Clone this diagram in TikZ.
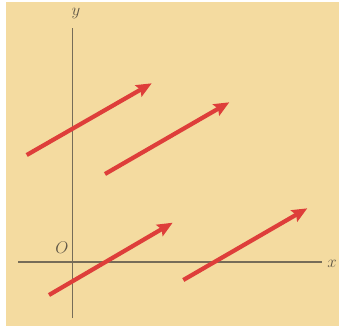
\documentclass[tikz,border=0pt]{standalone}
\usepackage{xcolor}
\usepackage{tikz}
\usetikzlibrary{arrows.meta,positioning,calc}
\definecolor{paperbeige}{RGB}{244,219,160}
\definecolor{vecred}    {RGB}{222,62,58}
\definecolor{axisgray}  {RGB}{118,108,88}
\tikzset{
  axisline/.style={draw=axisgray, line width=0.9pt},
  vecarr/.style  ={draw=vecred, line width=3.6pt,
                   -{Stealth[length=13pt, width=11pt, inset=2pt]}},
  axlabel/.style ={font=\fontsize{14}{16}\selectfont, text=axisgray!80!black,
                   inner sep=0pt},
}

\begin{document}
\begin{tikzpicture}[x=0.03cm,y=-0.03cm]
  \useasboundingbox (0,0) rectangle (342,328);
  \fill[paperbeige] (6,2) rectangle (339,326);
  % axes
  \coordinate (xl) at (18,262);
  \coordinate (xr) at (322,262);
  \coordinate (yb) at (72.5,318);
  \coordinate (yt) at (72.5,28);
  \draw[axisline] (xl) -- (xr);
  \draw[axisline] (yb) -- (yt);
  \node[axlabel] (xlab) at (332,264) {$x$};
  \node[axlabel] (ylab) at (76,14) {$y$};
  \node[axlabel] (olab) at (62,248) {$O$};
  % vectors
  \coordinate (a0) at (26.7,155);  \coordinate (a1) at (151.7,83.3);
  \coordinate (b0) at (105,174);   \coordinate (b1) at (229.3,102.3);
  \coordinate (c0) at (49,295);    \coordinate (c1) at (172.7,222.7);
  \coordinate (d0) at (183.3,280); \coordinate (d1) at (307.3,208.3);
  \foreach \v in {a,b,c,d}
    \draw[vecarr] (\v0) -- (\v1);
\end{tikzpicture}
\end{document}
